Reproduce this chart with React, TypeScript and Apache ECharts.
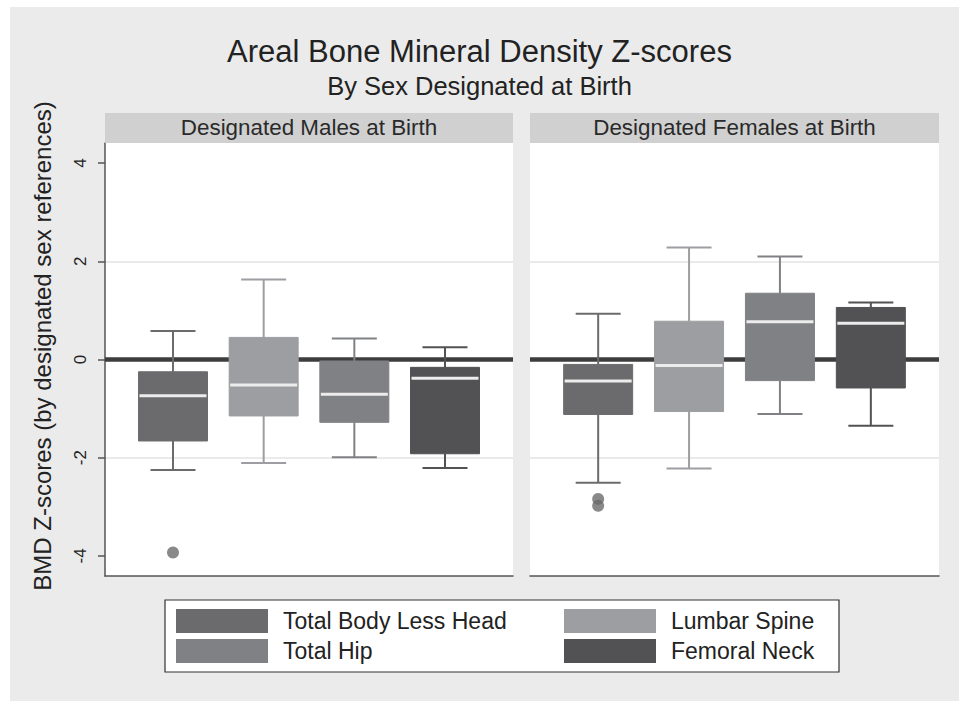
import React, { useEffect, useRef } from "react";
import * as echarts from "echarts";

// ---- data ----
const PANELS = ["Designated Males at Birth", "Designated Females at Birth"];
const MEASURES = ["Total Body Less Head", "Lumbar Spine", "Total Hip", "Femoral Neck"];
const Y_TICKS = [-4, -2, 0, 2, 4];
const TITLE = "Areal Bone Mineral Density Z-scores";
const SUBTITLE = "By Sex Designated at Birth";
const Y_TITLE = "BMD Z-scores (by designated sex references)";

// [lower whisker, Q1, median, Q3, upper whisker] per measure (in MEASURES order)
const MALE_BOX = [
  [-2.25, -1.66, -0.74, -0.25, 0.58],
  [-2.11, -1.15, -0.52, 0.45, 1.63],
  [-1.99, -1.28, -0.71, -0.03, 0.43],
  [-2.21, -1.92, -0.38, -0.16, 0.25],
];
const FEMALE_BOX = [
  [-2.51, -1.12, -0.44, -0.1, 0.93],
  [-2.22, -1.06, -0.12, 0.78, 2.28],
  [-1.11, -0.43, 0.77, 1.35, 2.1],
  [-1.35, -0.58, 0.74, 1.06, 1.16],
];
// [measure index, value]
const MALE_OUTLIERS = [[0, -3.93]];
const FEMALE_OUTLIERS = [[0, -2.84], [0, -2.98]];
const ZERO_REF = 0;

// ---- styles ----
const COLORS = ["#6b6b6d", "#9d9ea1", "#808184", "#525254"];
const FONT = "'Liberation Sans', Arial, Helvetica, sans-serif";
const BOX_W = 69;
const CAP_W = 45;

const GRIDS = [
  { left: 105, top: 143, width: 408, height: 433 },
  { left: 530, top: 143, width: 409, height: 433 },
];

function renderBox(params: any, api: any) {
  const x = api.value(0);
  const lo = api.coord([x, api.value(1)]);
  const q1 = api.coord([x, api.value(2)]);
  const md = api.coord([x, api.value(3)]);
  const q3 = api.coord([x, api.value(4)]);
  const hi = api.coord([x, api.value(5)]);
  const cx = lo[0];
  const color = api.visual("color");
  const line = (x1: number, y1: number, x2: number, y2: number, stroke: string, w: number) => ({
    type: "line",
    shape: { x1, y1, x2, y2 },
    style: { stroke, lineWidth: w },
  });
  return {
    type: "group",
    children: [
      line(cx, hi[1], cx, q3[1], color, 2),
      line(cx, lo[1], cx, q1[1], color, 2),
      line(cx - CAP_W / 2, hi[1], cx + CAP_W / 2, hi[1], color, 2),
      line(cx - CAP_W / 2, lo[1], cx + CAP_W / 2, lo[1], color, 2),
      {
        type: "rect",
        shape: { x: cx - BOX_W / 2, y: q3[1], width: BOX_W, height: q1[1] - q3[1] },
        style: { fill: color, stroke: color, lineWidth: 1 },
      },
      line(cx - BOX_W / 2 + 1, md[1], cx + BOX_W / 2 - 1, md[1], "#ececec", 3),
    ],
  };
}

export default function App() {
  const ref = useRef<HTMLDivElement>(null);
  useEffect(() => {
    if (!ref.current) return;
    const chart = echarts.init(ref.current, undefined, { renderer: "svg" });
    const boxes = [MALE_BOX, FEMALE_BOX];
    const outliers = [MALE_OUTLIERS, FEMALE_OUTLIERS];

    const series: any[] = [];
    boxes.forEach((panel, g) => {
      panel.forEach((stats, i) => {
        series.push({
          type: "custom",
          name: MEASURES[i],
          xAxisIndex: g,
          yAxisIndex: g,
          z: 3,
          itemStyle: { color: COLORS[i] },
          encode: { x: 0, y: [1, 2, 3, 4, 5] },
          renderItem: renderBox,
          data: [[i + 1, ...stats]],
        });
      });
      MEASURES.forEach((m, i) => {
        const pts = outliers[g].filter((o) => o[0] === i).map((o) => [o[0] + 1, o[1]]);
        if (pts.length) {
          series.push({
            type: "scatter",
            name: m,
            xAxisIndex: g,
            yAxisIndex: g,
            z: 3,
            symbol: "circle",
            symbolSize: 12,
            itemStyle: { color: COLORS[i] },
            data: pts,
          });
        }
      });
      // zero reference line
      series.push({
        type: "line",
        name: "zero",
        xAxisIndex: g,
        yAxisIndex: g,
        data: [],
        silent: true,
        markLine: {
          z: 1,
          silent: true,
          symbol: "none",
          label: { show: false },
          lineStyle: { color: "#3d3d3d", width: 4.5, type: "solid" },
          data: [{ yAxis: ZERO_REF }],
        },
      });
    });

    const xAxes = GRIDS.map((_, g) => ({
      gridIndex: g,
      type: "value",
      min: 0.25,
      max: 4.75,
      axisLine: { show: true, onZero: false, lineStyle: { color: "#555", width: 1.5 } },
      axisTick: { show: false },
      axisLabel: { show: false },
      splitLine: { show: false },
    }));
    const yAxes = GRIDS.map((_, g) => ({
      gridIndex: g,
      type: "value",
      min: -4.41,
      max: 4.41,
      axisLine: { show: g === 0, onZero: false, lineStyle: { color: "#555", width: 1.5 } },
      axisTick: {
        show: g === 0,
        length: 7,
        customValues: Y_TICKS,
        lineStyle: { color: "#555", width: 1.5 },
      },
      axisLabel: {
        show: g === 0,
        customValues: Y_TICKS,
        rotate: 90,
        margin: 16,
        fontSize: 17,
        color: "#222",
        fontFamily: FONT,
      },
      splitLine: {
        show: true,
        showMinLine: false,
        showMaxLine: false,
        lineStyle: { color: "#e3e3e3", width: 1.5 },
      },
    }));

    const graphic: any[] = [
      { type: "rect", z: -10, silent: true, shape: { x: 10, y: 7, width: 949, height: 694 }, style: { fill: "#ebebeb" } },
      { type: "rect", z: 1, silent: true, shape: { x: 165, y: 600, width: 674, height: 72 }, style: { fill: "#fff", stroke: "#333", lineWidth: 1.2 } },
      {
        type: "text",
        z: 5,
        x: 42,
        y: 346,
        rotation: Math.PI / 2,
        style: { text: Y_TITLE, font: `24px ${FONT}`, fill: "#222", align: "center", verticalAlign: "middle" },
      },
    ];
    GRIDS.forEach((gr, g) => {
      graphic.push({
        type: "rect",
        z: 1,
        silent: true,
        shape: { x: gr.left, y: 113, width: gr.width, height: 30 },
        style: { fill: "#d0d0d0" },
      });
      graphic.push({
        type: "text",
        z: 5,
        x: gr.left + gr.width / 2,
        y: 127.5,
        style: { text: PANELS[g], font: `22.4px ${FONT}`, fill: "#2a2a2a", align: "center", verticalAlign: "middle" },
      });
    });

    const legendCommon = {
      orient: "vertical",
      top: 609,
      itemWidth: 92,
      itemHeight: 24,
      itemGap: 6,
      padding: 0,
      icon: "rect",
      selectedMode: true,
      itemStyle: { borderWidth: 0 },
      textStyle: { fontSize: 23, color: "#222", fontFamily: FONT, padding: [0, 0, 0, 10] },
    };

    chart.setOption({
      animation: false,
      backgroundColor: "#fff",
      title: [
        {
          text: TITLE,
          left: "center",
          top: 31,
          textStyle: { fontSize: 31, fontWeight: "normal", color: "#222", fontFamily: FONT },
        },
        {
          text: SUBTITLE,
          left: "center",
          top: 68,
          textStyle: { fontSize: 25.5, fontWeight: "normal", color: "#222", fontFamily: FONT },
        },
      ],
      legend: [
        { ...legendCommon, left: 176, data: [MEASURES[0], MEASURES[2]] },
        { ...legendCommon, left: 564, data: [MEASURES[1], MEASURES[3]] },
      ],
      grid: GRIDS.map((gr) => ({ ...gr, show: true, backgroundColor: "#fff", borderWidth: 0 })),
      xAxis: xAxes,
      yAxis: yAxes,
      graphic,
      series,
    });
    return () => chart.dispose();
  }, []);
  return <div ref={ref} style={{ position: "fixed", left: 0, top: 0, width: 959, height: 701 }} />;
}
